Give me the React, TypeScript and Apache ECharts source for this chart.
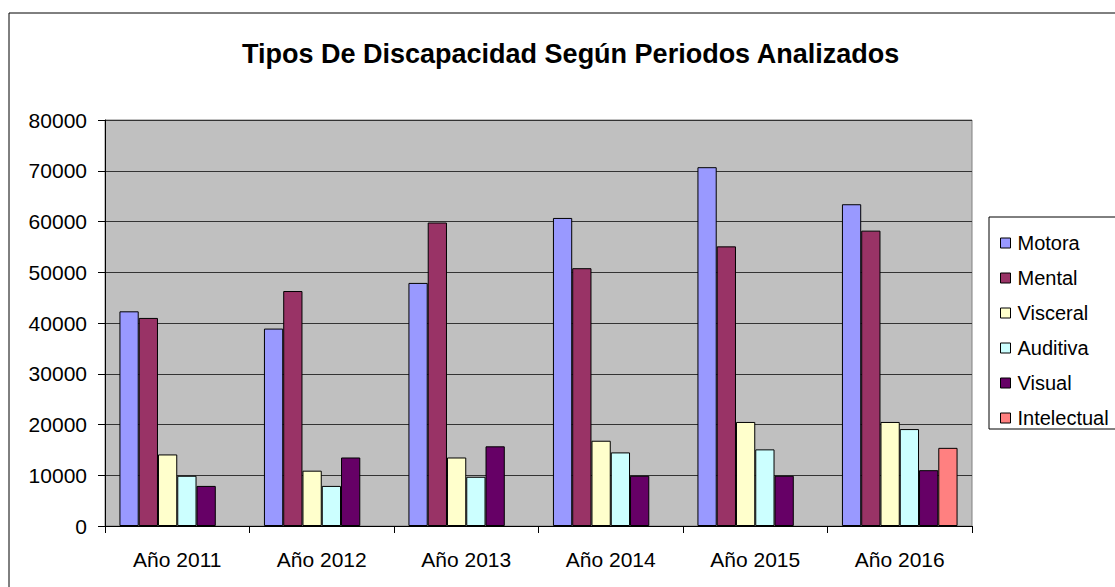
import React, { useEffect, useRef } from "react";
import * as echarts from "echarts";

const categories = ["Año 2011", "Año 2012", "Año 2013", "Año 2014", "Año 2015", "Año 2016"];
const motora = [42300, 38900, 47900, 60700, 70700, 63400];
const mental = [41000, 46300, 59800, 50800, 55100, 58200];
const visceral = [14100, 10900, 13500, 16800, 20500, 20500];
const auditiva = [9900, 7900, 9700, 14500, 15100, 19100];
const visual = [7900, 13500, 15700, 9900, 9900, 11000];
const intelectual = [null, null, null, null, null, 15400];

const seriesDefs = [
  { name: "Motora", data: motora, color: "#9999FF" },
  { name: "Mental", data: mental, color: "#993366" },
  { name: "Visceral", data: visceral, color: "#FFFFCC" },
  { name: "Auditiva", data: auditiva, color: "#CCFFFF" },
  { name: "Visual", data: visual, color: "#660066" },
  { name: "Intelectual", data: intelectual, color: "#FF8080" },
];

const FONT = "'Liberation Sans', Arial, sans-serif";

export default function App() {
  const ref = useRef<HTMLDivElement>(null);
  useEffect(() => {
    const chart = echarts.init(ref.current!, null, { renderer: "svg" });
    chart.setOption({
      animation: false,
      backgroundColor: "#FFFFFF",
      title: {
        text: "Tipos De Discapacidad Según Periodos Analizados",
        left: 237,
        top: 35,
        textStyle: { fontFamily: FONT, fontSize: 27, fontWeight: "bold", color: "#000" },
      },
      graphic: [
        {
          type: "rect",
          shape: { x: 9, y: 13, width: 1200, height: 700 },
          style: { fill: "none", stroke: "#000", lineWidth: 1 },
          z: -1,
        },
        {
          type: "rect",
          shape: { x: 989, y: 217, width: 300, height: 212 },
          style: { fill: "#fff", stroke: "#000", lineWidth: 1 },
          z: -1,
        },
      ],
      legend: {
        orient: "vertical",
        left: 995,
        top: 228,
        itemWidth: 10,
        itemHeight: 10,
        itemGap: 15,
        icon: "rect",
        textStyle: { fontFamily: FONT, fontSize: 20, color: "#000", padding: [0, 0, 0, 2] },
        data: seriesDefs.map((s) => ({
          name: s.name,
          itemStyle: { color: s.color, borderColor: "#000", borderWidth: 1 },
        })),
      },
      grid: {
        left: 105,
        right: 143,
        top: 120,
        bottom: 61,
        show: true,
        backgroundColor: "#C0C0C0",
        borderColor: "#808080",
        borderWidth: 1,
      },
      xAxis: {
        type: "category",
        data: categories,
        axisLine: { lineStyle: { color: "#000", width: 1 } },
        axisTick: { show: true, length: 7, lineStyle: { color: "#000" } },
        axisLabel: { fontFamily: FONT, fontSize: 21, color: "#000", margin: 23 },
        splitLine: { show: false },
      },
      yAxis: {
        type: "value",
        min: 0,
        max: 80000,
        interval: 10000,
        axisLine: { show: true, lineStyle: { color: "#000", width: 1 } },
        axisTick: { show: true, length: 7, lineStyle: { color: "#000" } },
        axisLabel: {
          fontFamily: FONT,
          fontSize: 21,
          color: "#000",
          margin: 18,
          formatter: (v: number) => String(v),
        },
        splitLine: { show: true, lineStyle: { color: "#333", width: 1 } },
      },
      series: seriesDefs.map((s) => ({
        name: s.name,
        type: "bar",
        data: s.data,
        barGap: "0%",
        barCategoryGap: "20%",
        itemStyle: { color: s.color, borderColor: "#000", borderWidth: 1 },
      })),
    });
    return () => chart.dispose();
  }, []);
  return (
    <div
      ref={ref}
      style={{ position: "fixed", left: 0, top: 0, width: 1115, height: 587, background: "#fff" }}
    />
  );
}
